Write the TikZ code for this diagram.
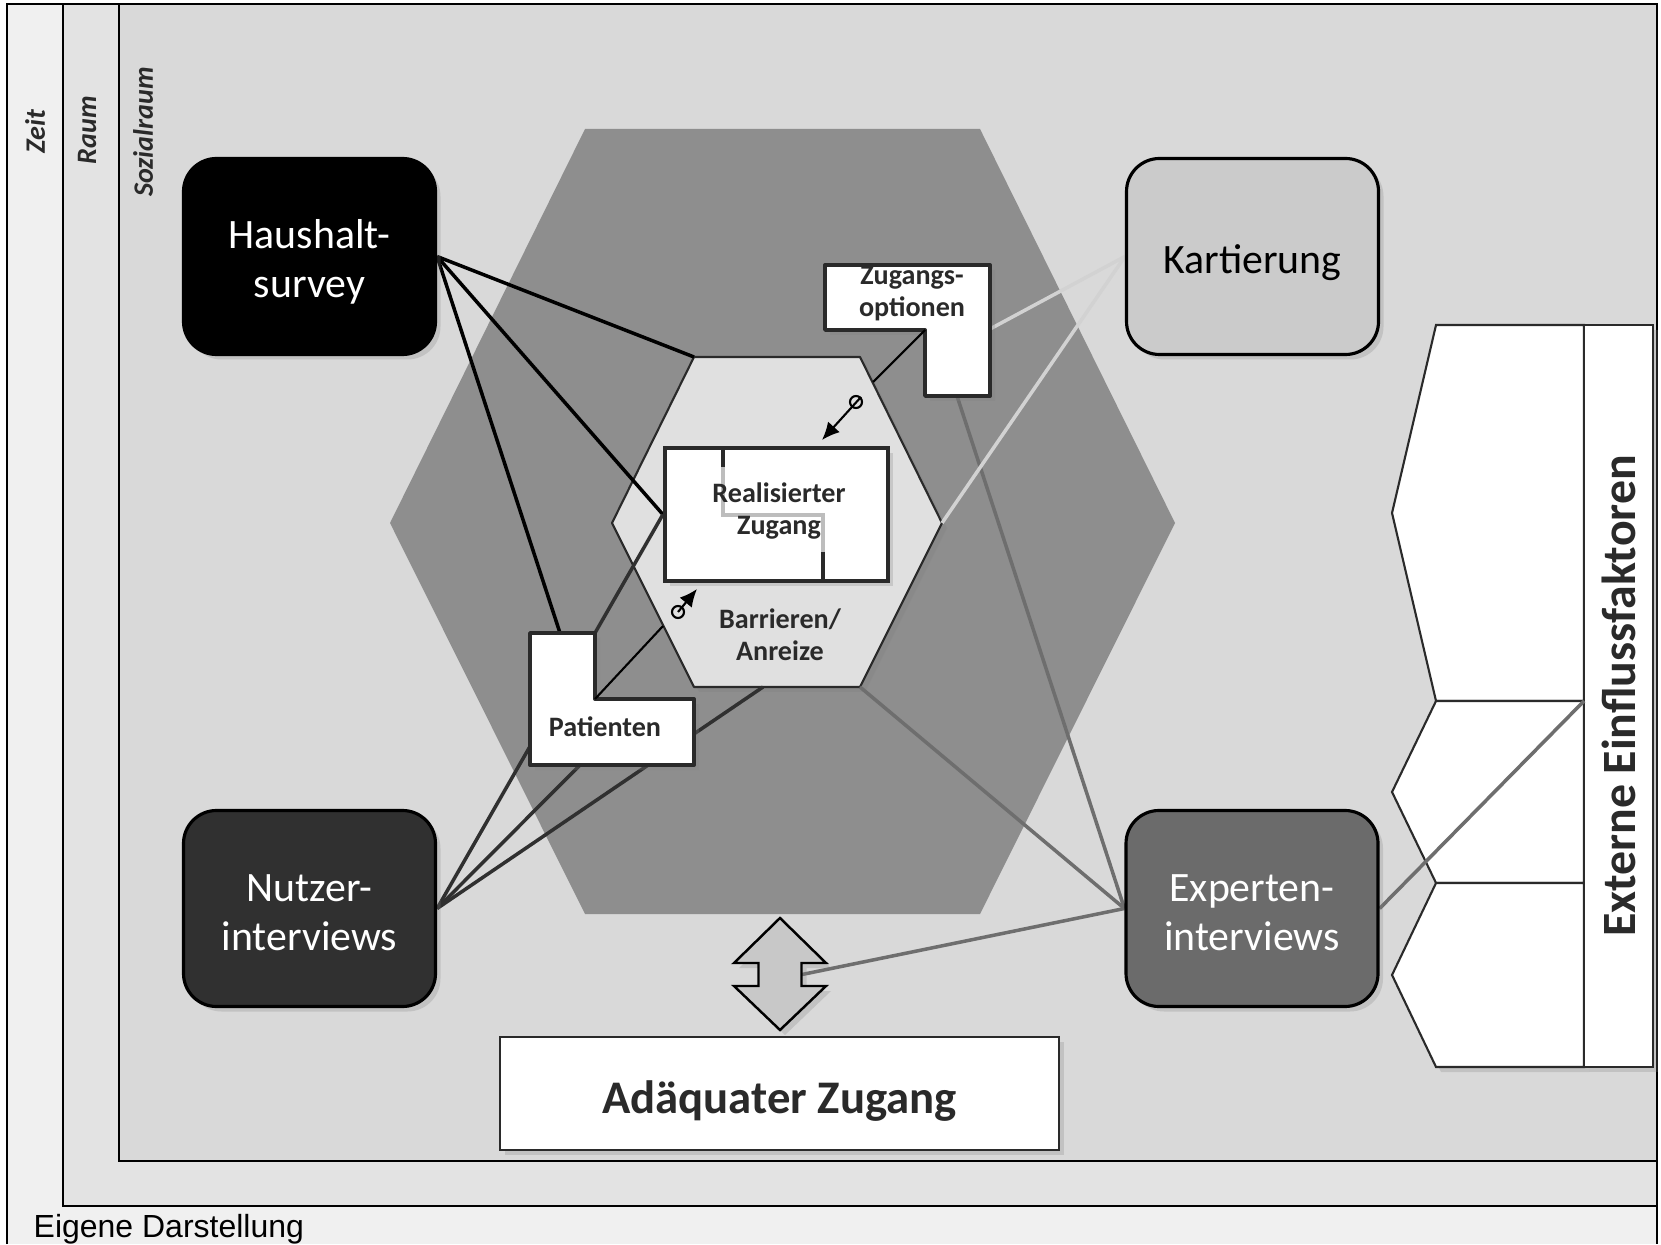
\documentclass[tikz,border=0pt]{standalone}
\usepackage{fontspec}
\setmainfont{Carlito}
\newfontfamily\quellefont{Liberation Sans}
\usepackage{tikz}
\usepackage{tkz-euclide}
\usepackage{xcolor}
\usetikzlibrary{arrows.meta,shadows}

\definecolor{zeitgrau}{HTML}{F0F0F0}
\definecolor{raumgrau}{HTML}{E3E3E3}
\definecolor{sozialgrau}{HTML}{D9D9D9}
\definecolor{hexdunkel}{HTML}{8E8E8E}
\definecolor{hexhell}{HTML}{E0E0E0}
\definecolor{kartgrau}{HTML}{CBCBCB}
\definecolor{nutzgrau}{HTML}{303030}
\definecolor{expgrau}{HTML}{6B6B6B}
\definecolor{kartlinie}{HTML}{D2D2D2}
\definecolor{explinie}{HTML}{6E6E6E}
\definecolor{stufe}{HTML}{BDBDBD}
\definecolor{pfeilgrau}{HTML}{C8C8C8}
\definecolor{schrift}{HTML}{2A2A2A}

\pgfdeclarelayer{hinten}
\pgfdeclarelayer{linien}
\pgfsetlayers{hinten,linien,main}

\begin{document}
\begin{tikzpicture}[
    rahmen/.style={draw=black,line width=0.6pt},
    ebene/.style={rotate=90,font=\bfseries\itshape\fontsize{8}{9}\selectfont,text=schrift},
    schatten/.style={drop shadow={opacity=0.25,shadow xshift=0.05cm,shadow yshift=-0.05cm}},
    methode/.style={draw=black,line width=0.9pt,rounded corners=0.33cm,minimum width=2.52cm,
      minimum height=1.96cm,inner sep=0pt,schatten},
    mtext/.style={align=center,inner sep=0pt,font=\fontsize{11.9}{13.9}\selectfont},
    fett/.style={font=\bfseries\fontsize{8}{9.1}\selectfont,text=schrift,align=center,inner sep=0pt},
    winkel/.style={draw=schrift,line width=1.1pt,fill=white,schatten},
    extern/.style={draw=schrift,line width=0.6pt,fill=white,schatten},
    verbindung/.style={line width=1pt},
    ring/.style={circle,draw=black,line width=0.6pt,minimum size=0.12cm,inner sep=0pt}
  ]
  \useasboundingbox (0,0) rectangle (16.61,12.44);
  \tkzDefPoints{5.85/11.15/G1,9.80/11.15/G2,11.75/7.21/G3,9.80/3.30/G4,5.85/3.30/G5,3.90/7.21/G6}
  \tkzDefPoints{6.94/8.87/I1,8.60/8.87/I2,9.42/7.21/I3,8.60/5.57/I4,6.94/5.57/I5,6.12/7.21/I6}
  \tkzDefPoints{8.25/9.79/Z1,9.90/9.79/Z2,9.90/8.48/Z3,9.25/8.48/Z4,9.25/9.14/Z5,8.25/9.14/Z6}
  \tkzDefPoints{5.30/6.11/P1,5.95/6.11/P2,5.95/5.45/P3,6.94/5.45/P4,6.94/4.79/P5,5.30/4.79/P6}
  \tkzDefPoints{5.60/6.11/Pt,5.80/4.79/Pb,7.63/5.57/Ib,9.57/8.48/Zb,9.90/9.15/Zr,15.84/5.43/Ej}
  \tkzDefPoints{8.02/2.695/Ar,8.73/8.62/zoE,8.22/8.04/zoT,6.63/6.18/paE,6.97/6.55/paT}

  \begin{pgfonlayer}{hinten}
    % Zeit, Raum, Sozialraum
    \fill[white] (0,0) rectangle (16.61,12.44);
    \fill[zeitgrau] (0.07,0) rectangle (16.57,12.40);
    \draw[rahmen] (0.07,0) -- (0.07,12.40) -- (16.57,12.40) -- (16.57,0);
    \draw[rahmen,fill=raumgrau] (0.63,0.38) rectangle (16.57,12.40);
    \draw[rahmen,fill=sozialgrau] (1.19,0.83) rectangle (16.57,12.40);
    \node[ebene] (zeit) at (0.35,11.12) {Zeit};
    \node[ebene] (raum) at (0.87,11.14) {Raum};
    \node[ebene] (sozial) at (1.43,11.12) {Sozialraum};
    % Sechsecke
    \tkzDrawPolygon[draw=none,fill=hexdunkel](G1,G2,G3,G4,G5,G6)
    \tkzDrawPolygon[draw=schrift,line width=0.6pt,fill=hexhell,
      drop shadow={opacity=0.3,shadow xshift=0.05cm,shadow yshift=-0.05cm}](I1,I2,I3,I4,I5,I6)
    % externe Faktoren
    \foreach \ya/\yb in {9.19/5.43,5.43/3.61,3.61/1.77}
      \draw[extern] (15.84,\ya) -- (14.36,\ya) -- (13.92,{(\ya+\yb)/2}) -- (14.36,\yb) -- (15.84,\yb) -- cycle;
    \node[extern,rotate=90,minimum width=7.42cm,minimum height=0.69cm,inner sep=0pt,
      font=\bfseries\fontsize{13.6}{15}\selectfont,text=schrift] (ext) at (16.185,5.48) {Externe Einflussfaktoren};
  \end{pgfonlayer}

  % Methoden
  \node[methode,fill=black] (hh) at (3.095,9.875) {};
  \node[mtext,text=white] (hhtext) at ([yshift=-0.05cm]hh.center) {Haushalt-\\survey};
  \node[methode,fill=kartgrau] (kart) at (12.525,9.875) {};
  \node[mtext,text=black] (karttext) at ([yshift=-0.06cm]kart.center) {Kartierung};
  \node[methode,fill=nutzgrau] (nutz) at (3.095,3.355) {};
  \node[mtext,text=white] (nutztext) at ([yshift=-0.045cm]nutz.center) {Nutzer-\\interviews};
  \node[methode,fill=expgrau] (exp) at (12.52,3.355) {};
  \node[mtext,text=white] (exptext) at ([yshift=-0.045cm]exp.center) {Experten-\\interviews};

  % Zugang
  \node[draw=schrift,line width=1.2pt,fill=white,minimum width=2.23cm,minimum height=1.33cm,
    inner sep=0pt,schatten] (rz) at (7.765,7.295) {};
  \draw[stufe,line width=1.2pt] (7.23,7.77) -- (7.23,7.29) -- (8.23,7.29) -- (8.23,6.92);
  \draw[schrift,line width=1.2pt] (7.23,7.96) -- (7.23,7.77) (8.23,6.92) -- (8.23,6.63);
  \node[fett] (rztext) at (7.79,7.33) {Realisierter\\Zugang};
  \node[fett] (ba) at (7.80,6.09) {Barrieren/\\Anreize};
  \tkzDrawPolygon[winkel](Z1,Z2,Z3,Z4,Z5,Z6)
  \node[fett] (zo) at (9.12,9.50) {Zugangs-\\optionen};
  \tkzDrawPolygon[winkel](P1,P2,P3,P4,P5,P6)
  \node[fett] (pat) at (6.05,5.17) {Patienten};

  % kleine Pfeile
  \draw[line width=0.6pt] (Z5) -- (zoE);
  \node[ring] (zoK) at (8.56,8.42) {};
  \draw[line width=0.6pt,-{Latex[length=5pt,width=4.5pt]}] (zoK.45) -- (zoT);
  \draw[line width=0.6pt] (P3) -- (paE);
  \node[ring] (paK) at (6.78,6.32) {};
  \draw[line width=0.6pt,-{Latex[length=5pt,width=4.5pt]}] (paK.center) -- (paT);

  % Doppelpfeil und Ergebnis
  \draw[draw=black,line width=0.7pt,fill=pfeilgrau,schatten] (7.80,3.26) -- (8.26,2.81) -- (8.015,2.81)
    -- (8.015,2.58) -- (8.26,2.58) -- (7.80,2.14) -- (7.34,2.58) -- (7.585,2.58) -- (7.585,2.81)
    -- (7.34,2.81) -- cycle;
  \node[draw=schrift,line width=0.6pt,fill=white,minimum width=5.59cm,minimum height=1.13cm,schatten,
    text height=11.4pt,text depth=0pt,
    font=\bfseries\fontsize{13.3}{15}\selectfont,text=schrift] (adq) at (7.795,1.505) {Adäquater Zugang};
  \node[anchor=base west,inner sep=0pt,font=\quellefont\fontsize{9.1}{10}\selectfont] (quelle)
    at (0.33,0.07) {Eigene Darstellung};

  \begin{pgfonlayer}{linien}
    \draw[verbindung,black] (hh.east) -- (I1);
    \draw[verbindung,black] (hh.east) -- (rz.west);
    \draw[verbindung,black] (hh.east) -- (Pt);
    \draw[verbindung,nutzgrau] (nutz.east) -- (rz.west);
    \draw[verbindung,nutzgrau] (nutz.east) -- (Pb);
    \draw[verbindung,nutzgrau] (nutz.east) -- (Ib);
    \draw[verbindung,explinie] (exp.west) -- (I4);
    \draw[verbindung,explinie] (exp.west) -- (Zb);
    \draw[verbindung,explinie] (exp.west) -- (Ar);
    \draw[verbindung,explinie] (exp.east) -- (Ej);
    \draw[verbindung,kartlinie] (kart.west) -- (Zr);
    \draw[verbindung,kartlinie] (kart.west) -- (I3);
  \end{pgfonlayer}
\end{tikzpicture}
\end{document}
